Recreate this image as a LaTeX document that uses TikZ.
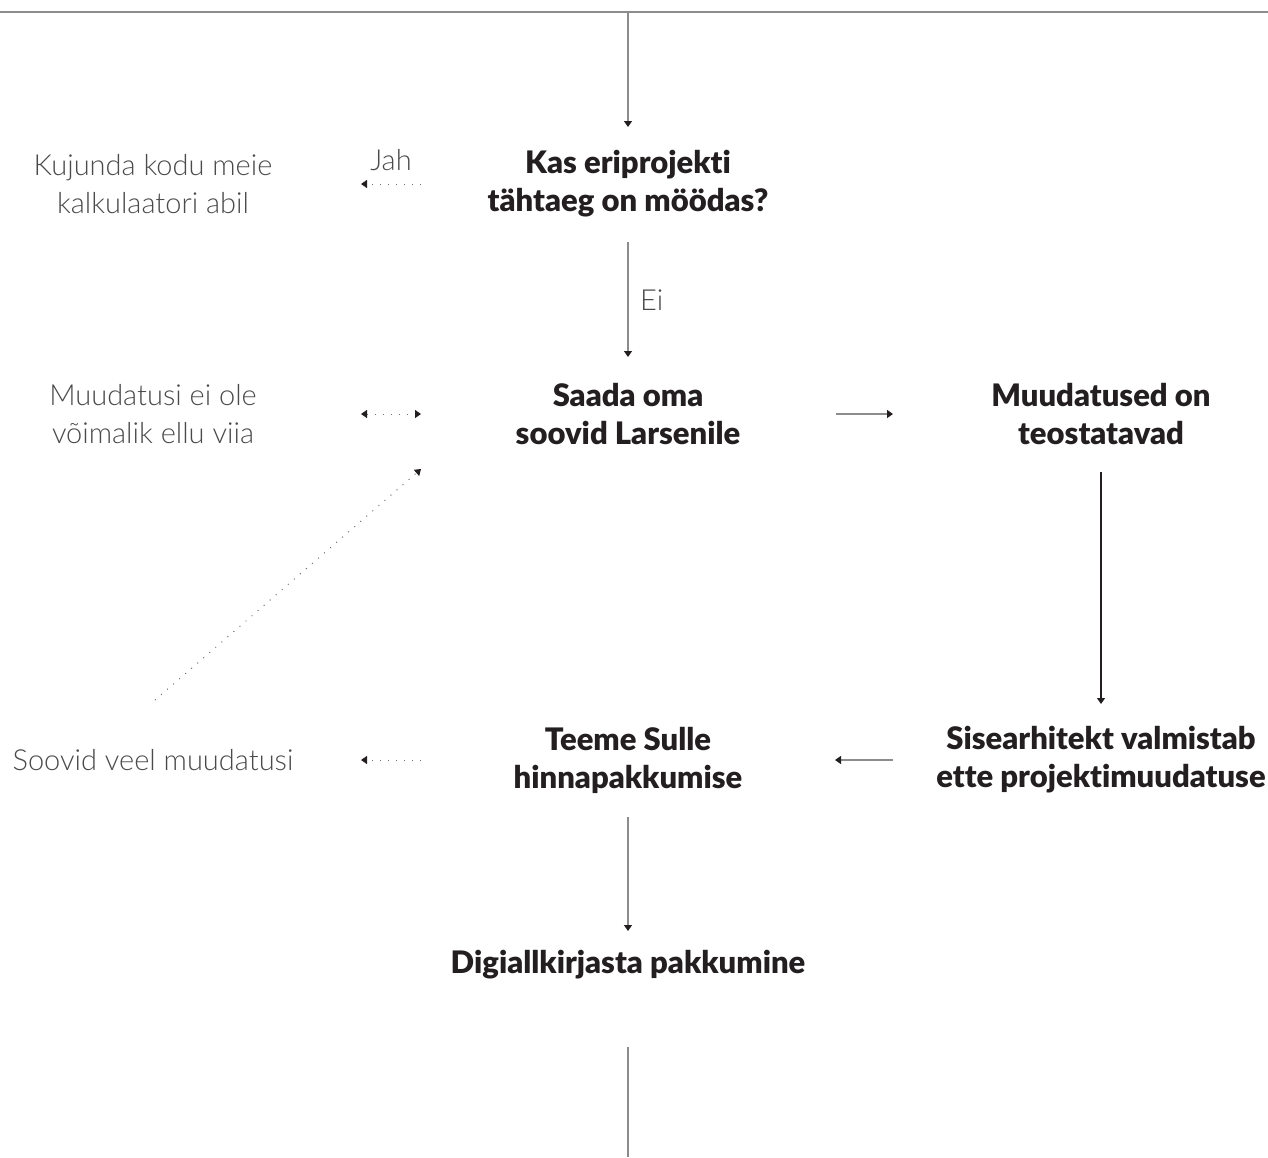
\documentclass[tikz,border=0pt]{standalone}
\usepackage{fontspec}
\setmainfont{Lato}[UprightFont=* Light, BoldFont=* Black, RawFeature=-liga]
\usetikzlibrary{arrows.meta}
\definecolor{linegray}{HTML}{8C8C8C}
\definecolor{txtdark}{HTML}{231F20}
\definecolor{txtlight}{HTML}{4A4A4A}
\begin{document}
\begin{tikzpicture}[x=1pt,y=-1pt,
  tip/.style={-{Triangle[width=8pt,length=6pt,color=txtdark]}},
  flow/.style={draw=linegray,line width=1.3pt,tip},
  dotline/.style={draw=linegray!80!black,line width=1pt,dash pattern=on 1pt off 7pt},
  step box/.style={font=\fontsize{31}{38}\selectfont\bfseries,text=txtdark,align=center,inner sep=0pt},
  side/.style={font=\fontsize{29}{38}\selectfont,text=txtlight,align=center,inner sep=0pt},
  lbl/.style={font=\fontsize{29}{32}\selectfont,text=txtlight,inner sep=0pt}]
\useasboundingbox (0,0) rectangle (1268,1157);
% nodes
\node[step box] (q) at (628,184) {Kas eriprojekti\\tähtaeg on möödas?};
\node[side] (calc) at (153,184) {Kujunda kodu meie\\kalkulaatori abil};
\node[step box] (send) at (628,414) {Saada oma\\soovid Larsenile};
\node[side] (no) at (153,414) {Muudatusi ei ole\\võimalik ellu viia};
\node[step box] (ok) at (1101,414) {Muudatused on\\teostatavad};
\node[step box] (arch) at (1101,760) {Sisearhitekt valmistab\\ette projektimuudatuse};
\node[step box] (offer) at (628,760) {Teeme Sulle\\hinnapakkumise};
\node[side] (more) at (153,760) {Soovid veel muudatusi};
\node[step box] (sign) at (628,965) {Digiallkirjasta pakkumine};
% coordinates
\coordinate (tl) at (0,12);
\coordinate (tr) at (1268,12);
\coordinate (top) at (628,12);
\coordinate (qin) at (628,127);
\coordinate (qout) at (628,242);
\coordinate (sendin) at (628,357);
\coordinate (jahs) at (421,184);
\coordinate (jahe) at (361,184);
\coordinate (nos) at (421,414);
\coordinate (noe) at (361,414);
\coordinate (mores) at (155,700);
\coordinate (moree) at (421,469);
\coordinate (r1s) at (836,414);
\coordinate (r1e) at (893,414);
\coordinate (okout) at (1101,472);
\coordinate (archin) at (1101,704);
\coordinate (l1s) at (893,760);
\coordinate (l1e) at (835,760);
\coordinate (offs) at (421,760);
\coordinate (offe) at (361,760);
\coordinate (offout) at (628,817);
\coordinate (signin) at (628,931);
\coordinate (signout) at (628,1047);
\coordinate (bottom) at (628,1157);
% connectors
\draw[draw=linegray,line width=1.6pt] (tl) -- (tr);
\draw[flow] (top) -- (qin);
\draw[dotline,tip] (jahs) -- (jahe);
\node[lbl] (jah) at (391,160) {Jah};
\draw[flow] (qout) -- (sendin);
\node[lbl,anchor=west] (ei) at (640,300) {Ei};
\draw[dotline,{Triangle[width=8pt,length=6pt,color=txtdark]}-{Triangle[width=8pt,length=6pt,color=txtdark]}] (noe) -- (nos);
\draw[dotline,tip] (mores) -- (moree);
\draw[flow] (r1s) -- (r1e);
\draw[draw=txtdark,line width=1.3pt,tip] (okout) -- (archin);
\draw[flow] (l1s) -- (l1e);
\draw[dotline,tip] (offs) -- (offe);
\draw[flow] (offout) -- (signin);
\draw[draw=linegray,line width=1.3pt] (signout) -- (bottom);
\end{tikzpicture}
\end{document}
